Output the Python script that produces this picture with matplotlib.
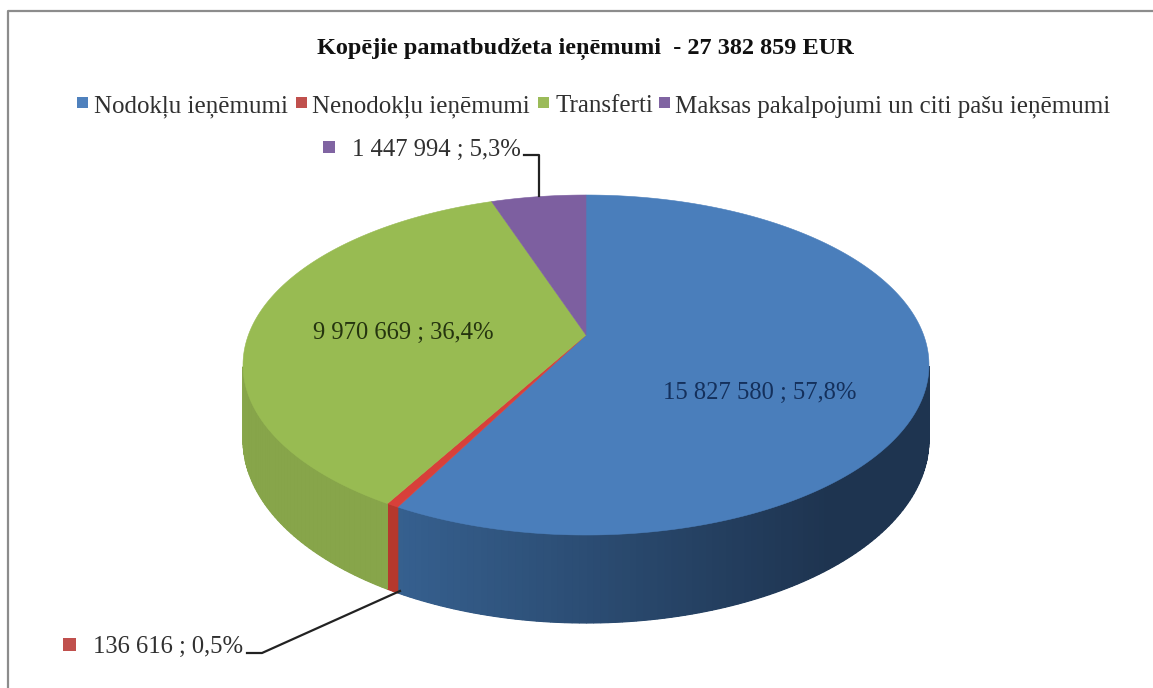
import numpy as np
from matplotlib import pyplot as plt
from matplotlib.colors import to_rgb
from matplotlib.patches import Polygon, Rectangle

W, H = 1153, 688

TITLE = 'Kopējie pamatbudžeta ieņēmumi  - 27 382 859 EUR'
categories = ['Nodokļu ieņēmumi', 'Nenodokļu ieņēmumi', 'Transferti',
              'Maksas pakalpojumi un citi pašu ieņēmumi']
values = [15827580, 136616, 9970669, 1447994]
labels = ['15 827 580 ; 57,8%', '136 616 ; 0,5%', '9 970 669 ; 36,4%', '1 447 994 ; 5,3%']

top_colors = ['#4a7ebb', '#d8403a', '#98bb52', '#7d5fa0']
legend_colors = ['#4f81bd', '#c0504d', '#9bbb59', '#8064a2']
wall_left = ['#36608f', '#b5382d', '#87a54a', '#5d4778']
wall_right = ['#1e3450', '#b5382d', '#7a9a3f', '#5d4778']

# pie geometry in pixels, perspective fitted to the picture
CX, CY = 586, 335
RX, RY = 337.6, 164.7
PERSP = 0.1765
DEPTH = 72.5


def project(ang, drop=0.0):
    u, v = np.cos(ang), np.sin(ang)
    s = 1 / (1 + PERSP * v)
    return CX + RX * u * s, CY - RY * v * s + drop * s


def main():
    plt.rcParams['font.family'] = ['Liberation Serif', 'DejaVu Serif']
    fig = plt.figure(figsize=(W / 100, H / 100), dpi=100)
    ax = fig.add_axes([0, 0, 1, 1])
    ax.set_xlim(0, W)
    ax.set_ylim(H, 0)
    ax.axis('off')

    # frame: only left and top show in the crop
    ax.plot([8, 8, W], [H, 11, 11], color='#8c8c8c', lw=1.6, zorder=1)

    fracs = np.array(values) / sum(values)
    edges = np.pi / 2 - 2 * np.pi * np.concatenate([[0], np.cumsum(fracs)])

    # side walls first, tops go over them
    for i in range(len(values)):
        angs = np.linspace(edges[i], edges[i + 1], max(int(fracs[i] * 360), 3))
        # wall starts where the rim is widest
        angs = angs[np.sin(angs) < -PERSP]
        if len(angs) < 2:
            continue
        c0, c1 = np.array(to_rgb(wall_left[i])), np.array(to_rgb(wall_right[i]))
        # solid base under the strips so the seams do not show white
        xt, yt = project(angs)
        xb, yb = project(angs, DEPTH)
        base = list(zip(xt, yt)) + list(zip(xb[::-1], yb[::-1]))
        ax.add_patch(Polygon(base, fc=(c0 + c1) / 2, ec='none', zorder=2))
        for a0, a1 in zip(angs[:-1], angs[1:]):
            x0, y0 = project(a0)
            x1, y1 = project(a1)
            x2, y2 = project(a1, DEPTH)
            x3, y3 = project(a0, DEPTH)
            t = np.clip((x0 - 400) / 430, 0, 1)
            col = c0 + (c1 - c0) * t
            ax.add_patch(Polygon([(x0, y0), (x1, y1), (x2, y2), (x3, y3)],
                                 fc=col, ec=col, lw=0.8, zorder=2))

    for i in range(len(values)):
        angs = np.linspace(edges[i], edges[i + 1], max(int(fracs[i] * 720), 3))
        xs, ys = project(angs)
        pts = [(CX, CY)] + list(zip(xs, ys))
        ax.add_patch(Polygon(pts, fc=top_colors[i], ec=top_colors[i], lw=0.4, zorder=3))

    # leader lines
    ax.plot([539, 539, 524], [196, 155, 155], color='#222222', lw=1.6, zorder=4)
    ax.plot([400, 262, 247], [591, 653, 653], color='#222222', lw=1.6, zorder=4)

    ax.text(585, 54, TITLE, ha='center', va='baseline', fontsize=17.5,
            fontweight='bold', color='#111111')

    leg_x = [77, 296, 538, 659]
    leg_text_x = [94, 312, 556, 675]
    for i, name in enumerate(categories):
        ax.add_patch(Rectangle((leg_x[i], 97), 11, 11, fc=legend_colors[i], ec='none'))
        ax.text(leg_text_x[i], 112, name, ha='left', va='baseline', fontsize=18, color='#303030')

    ax.text(760, 399, labels[0], ha='center', va='baseline', fontsize=17.7, color='#14305c')
    ax.text(403, 339, labels[2], ha='center', va='baseline', fontsize=17.7, color='#25340f')
    ax.text(352, 156, labels[3], ha='left', va='baseline', fontsize=17.7, color='#303030')
    ax.text(93, 653, labels[1], ha='left', va='baseline', fontsize=17.7, color='#303030')
    ax.add_patch(Rectangle((323, 141), 12, 12, fc=legend_colors[3], ec='none'))
    ax.add_patch(Rectangle((63, 638), 13, 13, fc=legend_colors[1], ec='none'))

    fig.savefig('out.png', dpi=100, facecolor='white')


if __name__ == '__main__':
    main()
